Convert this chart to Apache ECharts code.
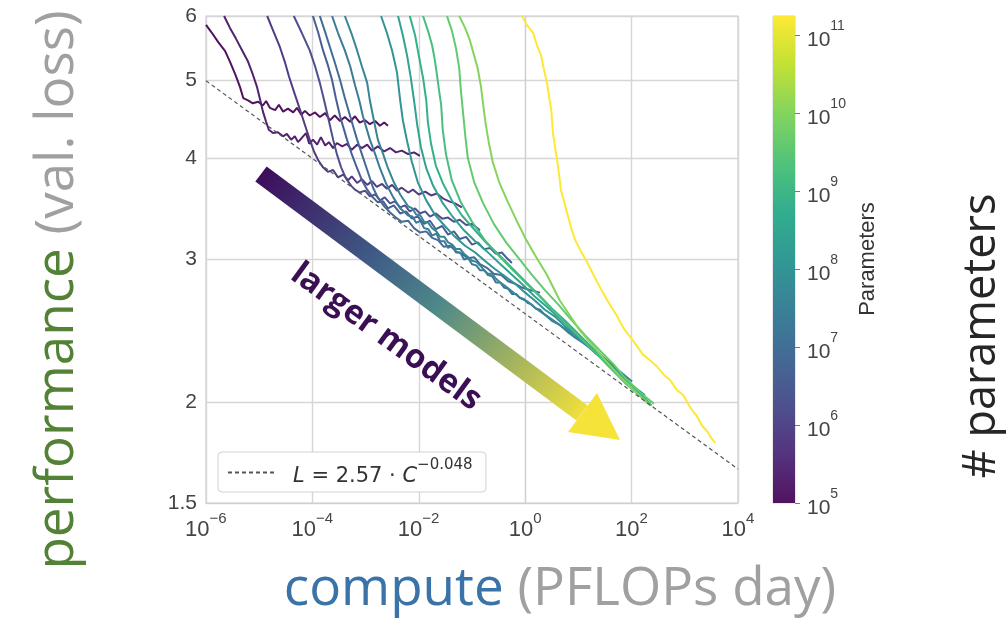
<!DOCTYPE html>
<html style="height: 100%">
<head>
<meta charset="utf-8">
</head>
<body style="height: 100%; margin: 0; background: #fff">
<div id="container" style="width: 1007px; height: 621px"></div>
<script type="text/javascript" src="https://cdn.jsdelivr.net/npm/echarts@6/dist/echarts.min.js"></script>
<script type="text/javascript">
// each run: [log10(compute in PFLOPs-days), validation loss]
var run01 = [[-6.00,5.85],[-5.89,5.72],[-5.77,5.57],[-5.64,5.43],[-5.55,5.27],[-5.45,5.08],[-5.36,4.90],[-5.30,4.75],[-5.21,4.72],[-5.12,4.68],[-5.02,4.70],[-4.93,4.65],[-4.87,4.71],[-4.80,4.62],[-4.70,4.59],[-4.63,4.66],[-4.55,4.57],[-4.46,4.61],[-4.36,4.56],[-4.29,4.62],[-4.21,4.53],[-4.14,4.58],[-4.05,4.52],[-3.95,4.56],[-3.86,4.50],[-3.76,4.55],[-3.67,4.46],[-3.58,4.52],[-3.48,4.45],[-3.39,4.50],[-3.29,4.44],[-3.20,4.51],[-3.11,4.43],[-3.01,4.46],[-2.92,4.41],[-2.82,4.45],[-2.73,4.39],[-2.65,4.43],[-2.58,4.39]];
var run02 = [[-5.66,6.00],[-5.55,5.80],[-5.44,5.63],[-5.32,5.44],[-5.21,5.27],[-5.12,5.08],[-5.04,4.90],[-4.98,4.72],[-4.93,4.57],[-4.87,4.44],[-4.82,4.34],[-4.74,4.30],[-4.65,4.31],[-4.55,4.26],[-4.48,4.29],[-4.40,4.22],[-4.33,4.26],[-4.27,4.19],[-4.20,4.24],[-4.12,4.30],[-4.06,4.17],[-3.99,4.22],[-3.91,4.16],[-3.84,4.25],[-3.76,4.15],[-3.69,4.19],[-3.61,4.12],[-3.54,4.18],[-3.44,4.14],[-3.35,4.17],[-3.26,4.10],[-3.16,4.16],[-3.07,4.12],[-2.97,4.16],[-2.88,4.09],[-2.77,4.14],[-2.65,4.08],[-2.54,4.12],[-2.43,4.07],[-2.32,4.09],[-2.20,4.05],[-2.09,4.07],[-1.98,4.03]];
var run03 = [[-4.85,6.00],[-4.74,5.76],[-4.61,5.49],[-4.52,5.27],[-4.44,5.05],[-4.33,4.80],[-4.23,4.59],[-4.14,4.40],[-4.05,4.22],[-3.97,4.08],[-3.89,3.98],[-3.80,3.90],[-3.71,3.85],[-3.61,3.87],[-3.52,3.79],[-3.42,3.82],[-3.33,3.76],[-3.26,3.80],[-3.16,3.73],[-3.07,3.77],[-2.97,3.71],[-2.88,3.75],[-2.79,3.69],[-2.69,3.72],[-2.60,3.67],[-2.50,3.71],[-2.41,3.65],[-2.32,3.68],[-2.20,3.63],[-2.11,3.66],[-2.00,3.61],[-1.88,3.64],[-1.77,3.60],[-1.66,3.62],[-1.55,3.57],[-1.43,3.54],[-1.32,3.52],[-1.19,3.48]];
var run04 = [[-4.35,6.00],[-4.20,5.72],[-4.05,5.44],[-3.95,5.20],[-3.86,4.96],[-3.78,4.72],[-3.71,4.51],[-3.61,4.22],[-3.54,4.05],[-3.46,3.90],[-3.37,3.78],[-3.27,3.70],[-3.20,3.66],[-3.11,3.63],[-3.01,3.65],[-2.92,3.59],[-2.82,3.61],[-2.73,3.55],[-2.64,3.58],[-2.54,3.52],[-2.45,3.54],[-2.35,3.48],[-2.26,3.50],[-2.17,3.44],[-2.07,3.47],[-1.98,3.42],[-1.88,3.44],[-1.79,3.39],[-1.68,3.42],[-1.56,3.37],[-1.45,3.38],[-1.34,3.34],[-1.23,3.36],[-1.11,3.31],[-1.00,3.32],[-0.85,3.26]];
var run05 = [[-3.99,6.00],[-3.89,5.72],[-3.80,5.44],[-3.71,5.22],[-3.63,5.00],[-3.56,4.75],[-3.48,4.51],[-3.35,4.22],[-3.26,4.05],[-3.16,3.89],[-3.07,3.76],[-2.97,3.66],[-2.88,3.59],[-2.77,3.53],[-2.67,3.54],[-2.58,3.47],[-2.47,3.50],[-2.35,3.42],[-2.24,3.44],[-2.13,3.37],[-2.02,3.39],[-1.90,3.32],[-1.79,3.35],[-1.68,3.27],[-1.56,3.30],[-1.45,3.22],[-1.34,3.25],[-1.23,3.18],[-1.11,3.20],[-1.00,3.13],[-0.89,3.15],[-0.77,3.09],[-0.66,3.10],[-0.55,3.05],[-0.44,3.06],[-0.34,3.01],[-0.25,2.97]];
var run06 = [[-3.86,6.00],[-3.76,5.73],[-3.67,5.49],[-3.58,5.26],[-3.48,5.00],[-3.39,4.75],[-3.29,4.51],[-3.16,4.22],[-3.07,4.05],[-2.97,3.87],[-2.86,3.68],[-2.77,3.58],[-2.65,3.49],[-2.54,3.43],[-2.43,3.38],[-2.32,3.34],[-2.20,3.35],[-2.09,3.28],[-1.98,3.24],[-1.86,3.25],[-1.75,3.19],[-1.64,3.17],[-1.53,3.11],[-1.41,3.12],[-1.30,3.07],[-1.19,3.05],[-1.08,3.01],[-0.96,3.02],[-0.85,2.96],[-0.72,2.93],[-0.59,2.88],[-0.45,2.87],[-0.32,2.82],[-0.19,2.80],[-0.06,2.77],[0.09,2.75],[0.28,2.73]];
var run07 = [[-3.63,6.00],[-3.52,5.72],[-3.39,5.44],[-3.29,5.20],[-3.20,4.93],[-3.12,4.72],[-3.05,4.51],[-2.92,4.22],[-2.82,4.05],[-2.73,3.89],[-2.62,3.73],[-2.48,3.58],[-2.35,3.47],[-2.28,3.44],[-2.20,3.40],[-2.12,3.39],[-2.05,3.33],[-1.97,3.35],[-1.90,3.28],[-1.82,3.27],[-1.75,3.21],[-1.67,3.23],[-1.60,3.16],[-1.52,3.16],[-1.45,3.10],[-1.37,3.12],[-1.30,3.06],[-1.22,3.06],[-1.15,3.00],[-1.07,3.01],[-1.00,2.96],[-0.92,2.95],[-0.85,2.91],[-0.77,2.91],[-0.70,2.87],[-0.62,2.86],[-0.55,2.81],[-0.47,2.81],[-0.40,2.77],[-0.32,2.76],[-0.25,2.72],[-0.17,2.72],[-0.10,2.69],[-0.02,2.68],[0.05,2.65],[0.12,2.64],[0.20,2.61],[0.28,2.60],[0.35,2.57],[0.50,2.53],[0.65,2.49],[0.80,2.45],[0.95,2.40],[1.11,2.37],[1.26,2.33],[1.41,2.29],[1.54,2.25],[1.65,2.22]];
var run08 = [[-3.39,6.00],[-3.27,5.72],[-3.16,5.44],[-3.07,5.20],[-2.97,4.96],[-2.92,4.72],[-2.86,4.51],[-2.77,4.22],[-2.67,4.05],[-2.58,3.89],[-2.47,3.74],[-2.35,3.61],[-2.20,3.49],[-2.12,3.47],[-2.05,3.41],[-1.97,3.40],[-1.90,3.34],[-1.82,3.33],[-1.75,3.28],[-1.67,3.25],[-1.60,3.20],[-1.52,3.20],[-1.45,3.15],[-1.37,3.13],[-1.30,3.09],[-1.22,3.09],[-1.15,3.05],[-1.07,3.02],[-1.00,2.99],[-0.92,2.98],[-0.85,2.95],[-0.77,2.91],[-0.70,2.88],[-0.62,2.88],[-0.55,2.84],[-0.47,2.81],[-0.40,2.79],[-0.25,2.74],[-0.10,2.69],[0.05,2.66],[0.20,2.61],[0.35,2.57],[0.50,2.52],[0.65,2.49],[0.80,2.44],[0.95,2.40],[1.11,2.36],[1.26,2.33],[1.41,2.28],[1.56,2.24],[1.71,2.20],[1.86,2.16],[2.01,2.12]];
var run09 = [[-2.71,6.00],[-2.60,5.72],[-2.50,5.43],[-2.41,5.11],[-2.35,4.72],[-2.30,4.46],[-2.22,4.20],[-2.13,3.96],[-2.02,3.74],[-1.86,3.55],[-1.70,3.41],[-1.51,3.30],[-1.32,3.20],[-1.13,3.12],[-0.94,3.06],[-0.76,2.99],[-0.57,2.92],[-0.38,2.86],[-0.19,2.80],[0.00,2.73],[0.18,2.67],[0.37,2.60],[0.56,2.55],[0.75,2.48],[0.94,2.42],[1.12,2.36],[1.31,2.30],[1.50,2.25],[1.69,2.19],[1.88,2.14],[2.07,2.08],[2.25,2.04]];
var run10 = [[-2.39,6.00],[-2.30,5.68],[-2.22,5.36],[-2.15,5.03],[-2.09,4.72],[-2.03,4.40],[-1.96,4.13],[-1.86,3.89],[-1.73,3.70],[-1.56,3.53],[-1.38,3.40],[-1.17,3.27],[-0.94,3.16],[-0.72,3.07],[-0.49,2.97],[-0.27,2.88],[-0.04,2.79],[0.18,2.70],[0.41,2.62],[0.64,2.54],[0.86,2.46],[1.09,2.39],[1.31,2.31],[1.54,2.24],[1.76,2.17],[1.99,2.10],[2.20,2.05]];
var run11 = [[-2.17,6.00],[-2.07,5.68],[-2.00,5.36],[-1.92,5.03],[-1.86,4.72],[-1.83,4.44],[-1.77,4.17],[-1.68,3.92],[-1.55,3.73],[-1.38,3.55],[-1.19,3.40],[-0.96,3.27],[-0.72,3.14],[-0.47,3.03],[-0.23,2.92],[0.02,2.81],[0.26,2.71],[0.50,2.61],[0.75,2.52],[0.99,2.43],[1.24,2.34],[1.48,2.25],[1.73,2.17],[1.97,2.09],[2.18,2.04],[2.35,1.99]];
var run12 = [[-1.92,6.00],[-1.83,5.76],[-1.75,5.52],[-1.70,5.30],[-1.66,5.08],[-1.62,4.86],[-1.58,4.66],[-1.55,4.34],[-1.49,4.05],[-1.38,3.76],[-1.21,3.53],[-1.00,3.34],[-0.76,3.17],[-0.49,3.03],[-0.23,2.91],[0.03,2.80],[0.30,2.69],[0.56,2.58],[0.82,2.48],[1.09,2.38],[1.35,2.29],[1.61,2.20],[1.88,2.11],[2.14,2.04],[2.38,1.98]];
var run13 = [[-1.47,6.00],[-1.38,5.76],[-1.30,5.47],[-1.24,5.17],[-1.21,4.86],[-1.17,4.57],[-1.13,4.29],[-1.08,4.01],[-0.96,3.74],[-0.79,3.52],[-0.59,3.32],[-0.36,3.15],[-0.12,3.01],[0.13,2.87],[0.37,2.75],[0.62,2.64],[0.86,2.53],[1.12,2.42],[1.39,2.32],[1.65,2.23],[1.91,2.13],[2.18,2.05],[2.42,1.99]];
var run14 = [[-1.24,6.00],[-1.13,5.80],[-1.04,5.60],[-0.96,5.36],[-0.89,5.16],[-0.83,4.90],[-0.79,4.66],[-0.74,4.40],[-0.68,4.17],[-0.61,3.96],[-0.49,3.74],[-0.34,3.55],[-0.17,3.36],[0.00,3.19],[0.18,3.04],[0.41,2.87],[0.65,2.67],[1.03,2.45],[1.41,2.29],[1.78,2.15],[2.10,2.05],[2.35,1.98]];
var run15 = [[-0.06,6.00],[0.03,5.85],[0.15,5.72],[0.22,5.52],[0.30,5.36],[0.35,5.16],[0.41,4.96],[0.45,4.76],[0.49,4.59],[0.52,4.31],[0.56,4.13],[0.60,3.98],[0.64,3.81],[0.67,3.66],[0.73,3.54],[0.79,3.42],[0.86,3.29],[0.94,3.17],[1.05,3.07],[1.16,2.98],[1.31,2.85],[1.46,2.73],[1.59,2.64],[1.73,2.55],[1.86,2.46],[2.01,2.39],[2.21,2.29],[2.35,2.25],[2.48,2.21],[2.61,2.16],[2.72,2.13],[2.85,2.07],[2.97,2.04],[3.10,1.97],[3.23,1.92],[3.32,1.87],[3.42,1.84],[3.51,1.80],[3.57,1.78]];
var runs = [run01, run02, run03, run04, run05, run06, run07, run08, run09, run10, run11, run12, run13, run14, run15];
// log10(parameters) of each run
var runParams = [5.0, 5.3, 5.8, 6.2, 6.6, 6.9, 7.3, 7.6, 8.0, 8.4, 8.8, 9.2, 9.6, 10.0, 11.24];

// frontier L = 2.57 * C^-0.048, read at both ends of the compute axis
var frontier = [[-6, 4.99], [4, 1.652]];

var xTicks = [-6, -4, -2, 0, 2, 4];
var yTicks = [1.5, 2, 3, 4, 5, 6];
var cbTicks = [5, 6, 7, 8, 9, 10, 11];
var cbRange = [5.0, 11.243];

var viridis = ['#440154', '#482475', '#414487', '#355f8d', '#2a788e', '#21918c', '#22a884', '#44bf70', '#7ad151', '#bddf26', '#fde725'];

function hexRgb(h) {
    return [parseInt(h.substr(1, 2), 16), parseInt(h.substr(3, 2), 16), parseInt(h.substr(5, 2), 16)];
}
// slightly washed out, like the photographed figure
function soften(c) {
    return c.map(function (v) { return Math.round(v * 0.93 + 255 * 0.07); });
}
function viridisAt(p) {
    var t = (p - cbRange[0]) / (cbRange[1] - cbRange[0]);
    t = Math.max(0, Math.min(1, t));
    var s = t * (viridis.length - 1);
    var i = Math.min(Math.floor(s), viridis.length - 2);
    var f = s - i;
    var a = hexRgb(viridis[i]), b = hexRgb(viridis[i + 1]);
    var c = a.map(function (v, k) { return v + (b[k] - v) * f; });
    return 'rgb(' + soften(c).join(',') + ')';
}
function supLabel(v) {
    var e = v < 0 ? '\u2212' + (-v) : String(v);
    return '{b|10}{s|' + e + '}{h| }';
}

var dom = document.getElementById('container');
var myChart = echarts.init(dom);

var series = runs.map(function (run, i) {
    return {
        type: 'line',
        xAxisIndex: 0,
        yAxisIndex: 0,
        showSymbol: false,
        symbol: 'none',
        silent: true,
        lineStyle: { width: 2, color: viridisAt(runParams[i]) },
        data: run.map(function (p) { return [p[0], Math.log10(p[1])]; })
    };
});

series.push({
    type: 'line',
    name: 'frontier',
    xAxisIndex: 0,
    yAxisIndex: 0,
    symbol: 'none',
    silent: true,
    z: 5,
    lineStyle: { width: 1.2, color: '#555', type: [4, 3] },
    itemStyle: { color: '#555' },
    data: frontier.map(function (p) { return [p[0], Math.log10(p[1])]; })
});

// colorbar drawn as one stacked bar
series.push({
    type: 'bar', xAxisIndex: 1, yAxisIndex: 1, stack: 'cb', silent: true,
    barWidth: '100%', itemStyle: { color: 'rgba(0,0,0,0)' }, data: [cbRange[0]]
});
series.push({
    type: 'bar', xAxisIndex: 1, yAxisIndex: 1, stack: 'cb', silent: true,
    barWidth: '100%',
    itemStyle: {
        color: {
            type: 'linear', x: 0, y: 1, x2: 0, y2: 0,
            colorStops: viridis.map(function (c, i) {
                return { offset: i / (viridis.length - 1), color: 'rgb(' + soften(hexRgb(c)).join(',') + ')' };
            })
        }
    },
    data: [cbRange[1] - cbRange[0]]
});

var tickFont = 'Liberation Sans, Arial, sans-serif';
var bigFont = 'Open Sans, Noto Sans, sans-serif';
var legendFont = 'DejaVu Sans, sans-serif';

var arrowStart = [261, 174], arrowEnd = [582, 413];

option = {
    backgroundColor: '#fff',
    animation: false,
    grid: [
        { left: 206, top: 16, width: 532, height: 487, show: true, borderColor: '#cfcfcf', borderWidth: 1.2, containLabel: false, outerBoundsMode: 'none' },
        { left: 773, top: 16, width: 22, height: 487, show: true, borderColor: '#d0d0d0', borderWidth: 1, containLabel: false, outerBoundsMode: 'none' }
    ],
    xAxis: [
        {
            type: 'value', gridIndex: 0, min: -6, max: 4, interval: 2,
            axisLine: { show: true, lineStyle: { color: '#cfcfcf', width: 1.2 } },
            axisTick: { show: false },
            splitLine: { show: true, lineStyle: { color: '#d6d6d6', width: 1.4 } },
            axisLabel: {
                margin: 8, color: '#444', fontFamily: tickFont,
                formatter: function (v) { return supLabel(v); },
                rich: {
                    b: { fontSize: 22, lineHeight: 24, verticalAlign: 'bottom', color: '#444', fontFamily: tickFont },
                    s: { fontSize: 15, lineHeight: 16, verticalAlign: 'top', color: '#444', fontFamily: tickFont },
                    h: { fontSize: 1, lineHeight: 30, verticalAlign: 'middle' }
                }
            }
        },
        { type: 'category', gridIndex: 1, data: ['p'], show: false, boundaryGap: true }
    ],
    yAxis: [
        {
            type: 'value', gridIndex: 0, min: Math.log10(1.5), max: Math.log10(6),
            axisLine: { show: true, lineStyle: { color: '#cfcfcf', width: 1.2 } },
            axisTick: { show: false, customValues: yTicks.map(Math.log10) },
            splitLine: { show: true, lineStyle: { color: '#d6d6d6', width: 1.4 } },
            axisLabel: {
                margin: 9, fontSize: 21, color: '#444', fontFamily: tickFont,
                customValues: yTicks.map(Math.log10),
                formatter: function (v) { return String(Math.round(Math.pow(10, v) * 10) / 10); }
            }
        },
        {
            type: 'value', gridIndex: 1, position: 'right', min: cbRange[0], max: cbRange[1],
            axisLine: { show: false },
            splitLine: { show: false },
            axisTick: { show: true, length: 5, lineStyle: { color: '#777' }, customValues: cbTicks },
            axisLabel: {
                margin: 12, color: '#444', fontFamily: tickFont,
                customValues: cbTicks,
                formatter: function (v) { return supLabel(v); },
                rich: {
                    b: { fontSize: 21, lineHeight: 22, verticalAlign: 'bottom', color: '#444', fontFamily: tickFont },
                    s: { fontSize: 14, lineHeight: 14, verticalAlign: 'top', color: '#444', fontFamily: tickFont },
                    h: { fontSize: 1, lineHeight: 31, verticalAlign: 'middle' }
                }
            }
        }
    ],
    legend: {
        left: 218, top: 452,
        data: ['frontier'],
        itemWidth: 46, itemHeight: 14,
        itemStyle: { opacity: 0 },
        padding: [6, 13, 5, 9],
        borderColor: '#d2d2d2', borderWidth: 1, borderRadius: 4,
        backgroundColor: '#fff',
        selectedMode: false,
        formatter: function () { return '{i0|L}{t| = 2.57 \u00b7 }{i|C}{s|\u22120.048}{h| }'; },
        textStyle: {
            color: '#333', fontFamily: legendFont, fontSize: 21,
            rich: {
                i0: { fontStyle: 'italic', fontSize: 21, lineHeight: 24, verticalAlign: 'bottom', padding: [0, 0, 0, 14], color: '#333', fontFamily: legendFont },
                t: { fontSize: 21, lineHeight: 24, verticalAlign: 'bottom', color: '#333', fontFamily: legendFont },
                i: { fontStyle: 'italic', fontSize: 21, lineHeight: 24, verticalAlign: 'bottom', color: '#333', fontFamily: legendFont },
                s: { fontSize: 15, lineHeight: 16, verticalAlign: 'top', color: '#333', fontFamily: legendFont },
                h: { fontSize: 1, lineHeight: 29, verticalAlign: 'middle' }
            }
        }
    },
    graphic: [
        {
            type: 'polygon', z: 20, silent: true,
            shape: { points: (function () {
                var dx = arrowEnd[0] - arrowStart[0], dy = arrowEnd[1] - arrowStart[1];
                var len = Math.sqrt(dx * dx + dy * dy), hw = 9.5;
                var nx = -dy / len * hw, ny = dx / len * hw;
                return [[arrowStart[0] - nx, arrowStart[1] - ny], [arrowStart[0] + nx, arrowStart[1] + ny],
                        [arrowEnd[0] + nx, arrowEnd[1] + ny], [arrowEnd[0] - nx, arrowEnd[1] - ny]];
            })() },
            style: {
                fill: {
                    type: 'linear', global: true,
                    x: arrowStart[0], y: arrowStart[1], x2: arrowEnd[0], y2: arrowEnd[1],
                    colorStops: [
                        { offset: 0, color: '#3d0d5c' },
                        { offset: 0.35, color: '#3f5c86' },
                        { offset: 0.55, color: '#4d8889' },
                        { offset: 0.8, color: '#a9b65c' },
                        { offset: 1, color: '#efdf3c' }
                    ]
                }
            }
        },
        {
            type: 'polygon', z: 20, silent: true,
            shape: { points: [[568, 432], [597, 393], [620, 440]] },
            style: { fill: '#f6e33a' }
        },
        {
            type: 'text', z: 21, silent: true, x: 386, y: 337, rotation: -0.63,
            style: { text: 'larger models', fill: '#3b0f54', font: 'bold 33px "Open Sans", "Noto Sans", sans-serif', textAlign: 'center', textVerticalAlign: 'middle' }
        },
        {
            type: 'text', silent: true, x: 58, y: 290, rotation: Math.PI / 2,
            style: {
                text: '{g|performance} {r|(val. loss)}', textAlign: 'center', textVerticalAlign: 'middle',
                rich: {
                    g: { fill: '#538135', fontSize: 53, fontWeight: 400, fontFamily: bigFont },
                    r: { fill: '#a0a0a0', fontSize: 53, fontWeight: 400, fontFamily: bigFont }
                },
                fontSize: 53, fontWeight: 400, fontFamily: bigFont
            }
        },
        {
            type: 'text', silent: true, x: 560, y: 590,
            style: {
                text: '{b|compute} {r|(PFLOPs day)}', textAlign: 'center', textVerticalAlign: 'middle',
                rich: {
                    b: { fill: '#3a73a8', fontSize: 53, fontWeight: 400, fontFamily: bigFont },
                    r: { fill: '#a0a0a0', fontSize: 53, fontWeight: 400, fontFamily: bigFont }
                },
                fontSize: 53, fontWeight: 400, fontFamily: bigFont
            }
        },
        {
            type: 'text', silent: true, x: 982, y: 336, rotation: Math.PI / 2,
            style: { text: '# parameters', fill: '#262626', font: '400 45px "Open Sans", "Noto Sans", sans-serif', textAlign: 'center', textVerticalAlign: 'middle' }
        },
        {
            type: 'text', silent: true, x: 868, y: 259, rotation: Math.PI / 2,
            style: { text: 'Parameters', fill: '#333', font: '22px "Liberation Sans", Arial, sans-serif', textAlign: 'center', textVerticalAlign: 'middle' }
        }
    ],
    series: series
};

myChart.setOption(option);
window.onresize = myChart.resize;
</script>
</body>
</html>
